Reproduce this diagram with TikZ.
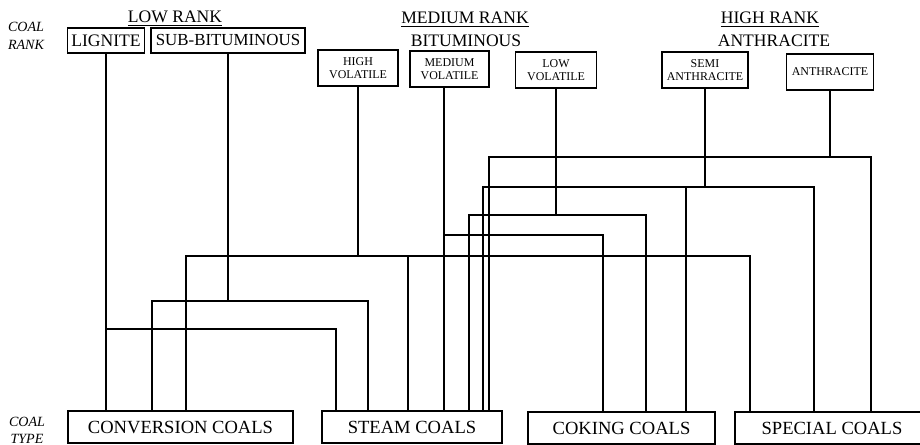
\documentclass[tikz,border=0pt]{standalone}
\usepackage{fontspec}
\setmainfont{Liberation Serif}

\newdimen\px \px=0.025cm

\tikzset{
  rankbox/.style={draw, line width=1pt, inner sep=0pt, minimum height=25\px,
    font=\fontsize{12.5}{14}\selectfont},
  volbox/.style={draw, line width=1pt, inner sep=0pt, align=center,
    minimum height=36\px, font=\fontsize{8.5}{9.3}\selectfont},
  typebox/.style={draw, line width=1pt, inner sep=0pt, minimum height=32\px,
    font=\fontsize{13.2}{15}\selectfont},
  heading/.style={anchor=base, inner sep=0pt, font=\fontsize{12.5}{14}\selectfont},
  key/.style={align=center, anchor=base, inner sep=0pt,
    font=\fontsize{10}{13}\selectfont\itshape},
  link/.style={line width=1pt},
}

\begin{document}
\begin{tikzpicture}[x=0.025cm, y=-0.025cm]
    \useasboundingbox (0,0) rectangle (920,445);

    % rank headings
    \node[key] (rankkey) at (26,50) {COAL\\RANK};
    \node[heading] (lowrank) at (175,23) {\underline{LOW RANK}};
    \node[heading] (medrank) at (465,24) {\underline{MEDIUM RANK}};
    \node[heading] (bitum) at (466,47) {BITUMINOUS};
    \node[heading] (highrank) at (770,24) {\underline{HIGH RANK}};
    \node[heading] (anthr) at (774,47) {ANTHRACITE};

    % rank boxes
    \node[rankbox, minimum width=77\px] (lig) at (106,40.5) {LIGNITE};
    \node[rankbox, minimum width=154\px, font=\fontsize{12}{14}\selectfont] (sub) at (228,40.5) {SUB-BITUMINOUS};
    \node[volbox, minimum width=80\px] (hv) at (358,68) {HIGH\\VOLATILE};
    \node[volbox, minimum width=79\px] (mv) at (449.5,69) {MEDIUM\\VOLATILE};
    \node[volbox, minimum width=81\px] (lv) at (556,70) {LOW\\VOLATILE};
    \node[volbox, minimum width=86\px] (semi) at (705,70) {SEMI\\ANTHRACITE};
    \node[volbox, minimum width=87\px] (anth) at (830,72) {ANTHRACITE};

    % coal types
    \node[key, font=\fontsize{10}{12}\selectfont\itshape] (typekey) at (27,443) {COAL\\TYPE};
    \node[typebox, minimum width=225\px] (conv) at (180.5,427) {CONVERSION COALS};
    \node[typebox, minimum width=180\px] (steam) at (412,427) {STEAM COALS};
    \node[typebox, minimum width=187\px] (coking) at (621.5,428) {COKING COALS};
    \node[typebox, minimum width=194\px] (special) at (832,428) {SPECIAL COALS};

    % lignite
    \draw[link] (lig.south) -- (lig.south |- conv.north);
    \draw[link] (lig.south |- 0,329) -| (336,0 |- steam.north);

    % sub-bituminous
    \draw[link] (sub.south) -- (sub.south |- 0,301);
    \draw[link] (152,0 |- conv.north) |- (368,301) -- (368,0 |- steam.north);

    % high volatile
    \draw[link] (hv.south) -- (hv.south |- 0,256);
    \draw[link] (186,0 |- conv.north) |- (750,256) -- (750,0 |- special.north);
    \draw[link] (408,256) -- (408,0 |- steam.north);

    % medium volatile
    \draw[link] (444,0 |- mv.south) -- (444,0 |- steam.north);
    \draw[link] (444,235) -| (603,0 |- coking.north);

    % low volatile
    \draw[link] (lv.south) -- (lv.south |- 0,215);
    \draw[link] (469,0 |- steam.north) |- (646,215) -- (646,0 |- coking.north);

    % semi anthracite
    \draw[link] (semi.south) -- (semi.south |- 0,187);
    \draw[link] (483,0 |- steam.north) |- (814,187) -- (814,0 |- special.north);
    \draw[link] (686,187) -- (686,0 |- coking.north);

    % anthracite
    \draw[link] (anth.south) -- (anth.south |- 0,157);
    \draw[link] (489,0 |- steam.north) |- (871,157) -- (871,0 |- special.north);
\end{tikzpicture}
\end{document}
